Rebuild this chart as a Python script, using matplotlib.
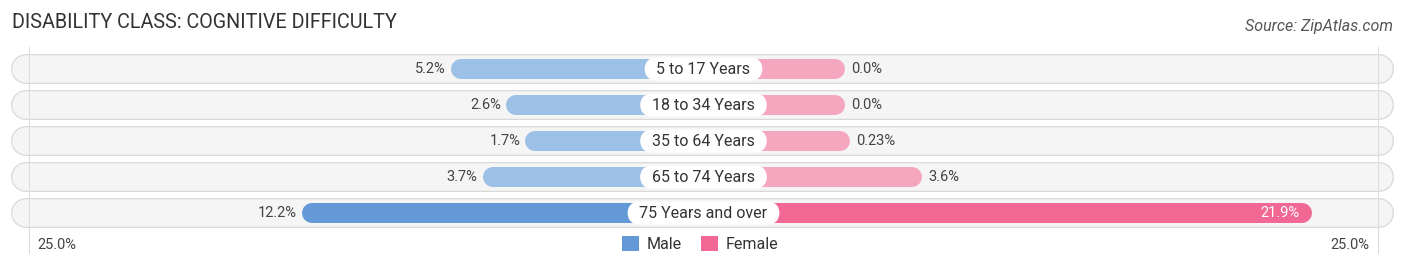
import matplotlib
matplotlib.use("Agg")
import matplotlib.pyplot as plt
from matplotlib.patches import Patch

categories = ["5 to 17 Years", "18 to 34 Years", "35 to 64 Years", "65 to 74 Years", "75 Years and over"]
male = [5.2, 2.6, 1.7, 3.7, 12.2]
female = [0.0, 0.0, 0.23, 3.6, 21.9]
male_labels = ["5.2%", "2.6%", "1.7%", "3.7%", "12.2%"]
female_labels = ["0.0%", "0.0%", "0.23%", "3.6%", "21.9%"]
axis_max = 25.0
tick_label = "25.0%"

W, H = 1406, 270
PX = 21.3          # pixels per percent
CX = 703.5         # centre pixel
OFF = 142 / PX     # offset (label zone) in percent units

plt.rcParams['font.family'] = ['Roboto', 'DejaVu Sans']
fig = plt.figure(figsize=(W / 100, H / 100), dpi=100)
ax = fig.add_axes([0, 0, 1, 1])
ax.set_xlim(-CX / PX, (W - CX) / PX)
ax.set_ylim(H, 0)
ax.axis('off')

def px2u(p):
    return (p - CX) / PX

pt = 72 / 100  # points per pixel
row_y = [69, 105, 141, 177, 213]

male_light, male_strong = "#9dc0e7", "#6399d6"
fem_light, fem_strong = "#f6a7c0", "#f06893"

# grid lines at +-25%
for s in (-1, 1):
    gx = s * (OFF + axis_max)
    ax.plot([gx, gx], [47, 253], color="#dddddd", lw=0.8, zorder=5)

bg_l, bg_r = px2u(26), px2u(1379)
r_bar = 10 / PX
for i, (cat, m, f) in enumerate(zip(categories, male, female)):
    y = row_y[i]
    ax.plot([bg_l, bg_r], [y, y], color="#d9d9d9", lw=30 * pt, solid_capstyle='round', zorder=1)
    ax.plot([bg_l, bg_r], [y + 0.4, y + 0.4], color="#f5f5f5", lw=27.5 * pt, solid_capstyle='round', zorder=2)
    strong = (i == len(categories) - 1)
    mc = male_strong if strong else male_light
    fc = fem_strong if strong else fem_light
    ml = OFF + m
    fl = OFF + f
    ax.plot([-ml + r_bar, 0], [y, y], color=mc, lw=20 * pt, solid_capstyle='round', zorder=3)
    ax.plot([0, fl - r_bar], [y, y], color=fc, lw=20 * pt, solid_capstyle='round', zorder=3)
    ax.plot([-0.5, 0.5], [y, y], color=fc, lw=20 * pt, solid_capstyle='butt', zorder=3)
    ax.plot([-0.5, 0], [y, y], color=mc, lw=20 * pt, solid_capstyle='butt', zorder=3)
    # centre label
    ax.text(0, y, "  " + cat + "  ", ha='center', va='center', fontsize=11.5, color="#333333", zorder=6,
            bbox=dict(boxstyle="round,pad=0.25,rounding_size=0.8", fc="white", ec="none"))
    # male value label
    ax.text(-ml - 5 / PX, y, male_labels[i], ha='right', va='center', fontsize=10.5,
            color="#444444", zorder=6)
    # female value label
    if f > 15:
        ax.text(fl - 12 / PX, y, female_labels[i], ha='right', va='center', fontsize=10.5,
                color="white", zorder=6)
    else:
        ax.text(fl + 6 / PX, y, female_labels[i], ha='left', va='center', fontsize=10.5,
                color="#444444", zorder=6)

# axis tick labels
ax.text(px2u(37), 245, tick_label, ha='left', va='center', fontsize=10.5, color="#444444")
ax.text(px2u(1369), 245, tick_label, ha='right', va='center', fontsize=10.5, color="#444444")

# title and source
fig.text(12 / W, 1 - 22 / H, "DISABILITY CLASS: COGNITIVE DIFFICULTY", ha='left', va='center',
         fontsize=14.2, color="#333333")
fig.text(1393 / W, 1 - 26 / H, "Source: ZipAtlas.com", ha='right', va='center',
         fontsize=11.5, color="#555555", style='italic')

handles = [Patch(facecolor=male_strong, edgecolor='none', label="Male"),
           Patch(facecolor=fem_strong, edgecolor='none', label="Female")]
fig.legend(handles=handles, loc='center', bbox_to_anchor=(700 / W, 1 - 244 / H), ncol=2,
           frameon=False, fontsize=11.5, handlelength=1.1, handleheight=1.1,
           handletextpad=0.45, columnspacing=1.2, labelcolor="#333333")

fig.savefig("out.png", dpi=100)
